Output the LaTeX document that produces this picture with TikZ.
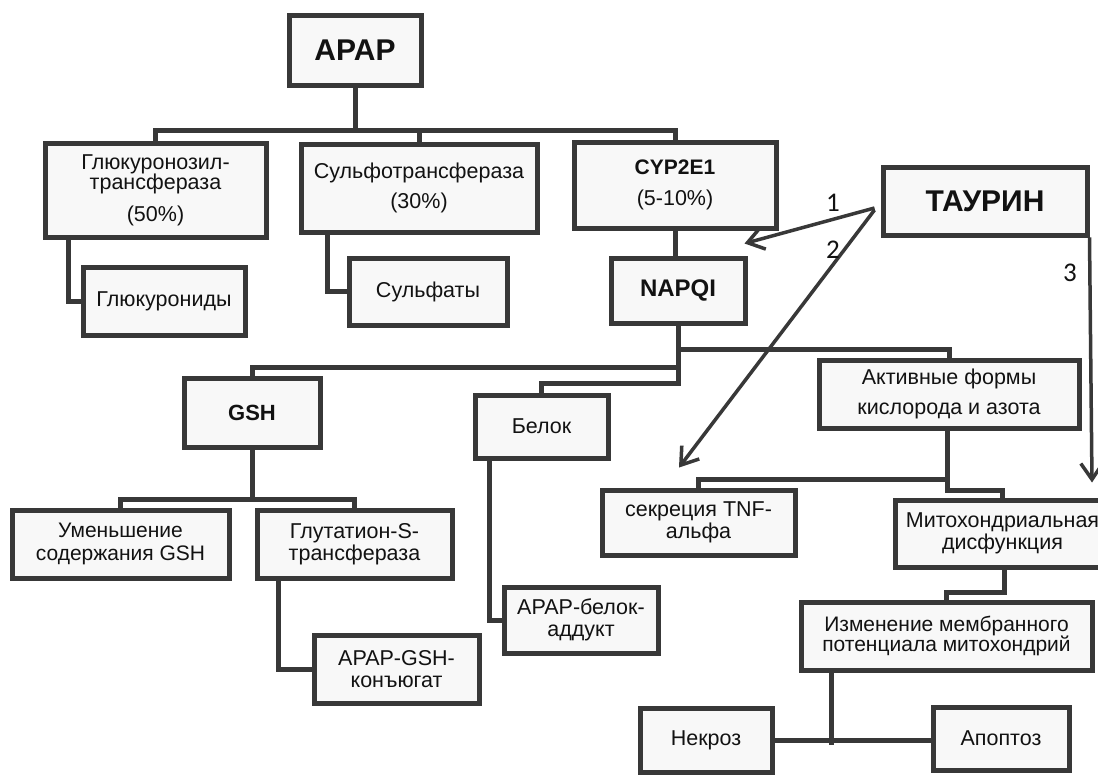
\documentclass[tikz,border=0pt]{standalone}
\usepackage{fontspec}
\setmainfont{Liberation Sans}
\newfontfamily\lblfont{Carlito}
\usetikzlibrary{arrows.meta,calc}
\definecolor{linec}{HTML}{383838}
\definecolor{txtc}{HTML}{121212}
\definecolor{boxfill}{HTML}{F8F8F8}
\begin{document}
\begin{tikzpicture}[x=1pt,y=-1pt,
  box/.style={draw=linec,line width=5pt,fill=boxfill,rectangle,inner sep=0pt,
    align=center,text=txtc,font=\fontsize{21.5}{21.5}\selectfont},
  conn/.style={draw=linec,line width=5pt,line cap=rect},
  arr/.style={draw=linec,line width=3.5pt,-{Straight Barb[length=16pt,width=22pt,line width=3.5pt]}},
  lbl/.style={text=txtc,font=\lblfont\fontsize{27}{27}\selectfont,inner sep=0pt}]
\useasboundingbox (0,0) rectangle (1098,774);
\clip (0,0) rectangle (1098,774);
\fill[white] (0,0) rectangle (1098,774);

% boxes
\node[box,minimum width=132pt,minimum height=70pt,font=\fontsize{30}{30}\selectfont\bfseries] (apap) at (355,50) {APAP};
\node[box,minimum width=221pt,minimum height=94pt,font=\fontsize{21.5}{20.5}\selectfont] (gluc) at (155.5,190) {Глюкуронозил-\\трансфераза\\[11pt](50\%)};
\node[box,minimum width=236pt,minimum height=88pt] (sulf) at (419,188) {Сульфотрансфераза\\[9pt](30\%)};
\node[box,minimum width=202pt,minimum height=86pt] (cyp) at (675,185) {\fontsize{21}{21}\selectfont\textbf{CYP2E1}\\[10pt](5-10\%)};
\node[box,minimum width=204pt,minimum height=68pt,font=\fontsize{30}{30}\selectfont\bfseries] (taurin) at (985,201) {ТАУРИН};
\node[box,minimum width=162pt,minimum height=68pt] (glucs) at (164,301) {Глюкурониды};
\node[box,minimum width=158pt,minimum height=67pt] (sulfaty) at (428,291.5) {Сульфаты};
\node[box,minimum width=134pt,minimum height=65pt,font=\fontsize{24}{25}\selectfont\bfseries] (napqi) at (678,290.5) {NAPQI};
\node[box,minimum width=136pt,minimum height=69pt,font=\fontsize{22}{22}\selectfont\bfseries] (gsh) at (252,412.5) {GSH};
\node[box,minimum width=133pt,minimum height=63pt] (belok) at (541.5,426.5) {Белок};
\node[box,minimum width=260pt,minimum height=68pt] (afk) at (949,394) {Активные формы\\[8.5pt]кислорода и азота};
\node[box,minimum width=217pt,minimum height=68pt,font=\fontsize{21}{23}\selectfont] (umen) at (120.5,544) {Уменьшение\\содержания GSH};
\node[box,minimum width=195pt,minimum height=68pt] (glut) at (354.5,544) {Глутатион-S-\\трансфераза};
\node[box,minimum width=165pt,minimum height=68pt] (apapgsh) at (396.5,669) {APAP-GSH-\\конъюгат};
\node[box,minimum width=154pt,minimum height=66pt] (apapbel) at (581,620) {APAP-белок-\\аддукт};
\node[box,minimum width=193pt,minimum height=65pt] (tnf) at (698.5,522.5) {секреция TNF-\\альфа};
\node[box,minimum width=215pt,minimum height=67pt] (mito) at (1002.5,533.5) {Митохондриальная\\дисфункция};
\node[box,minimum width=291pt,minimum height=68pt,font=\fontsize{21}{20.5}\selectfont] (izm) at (946.5,636) {Изменение мембранного\\потенциала митохондрий};
\node[box,minimum width=132pt,minimum height=64pt] (nekroz) at (706,740) {Некроз};
\node[box,minimum width=136pt,minimum height=63pt] (apopt) at (1001,738.5) {Апоптоз};

% connectors
\draw[conn] (apap.south) -- ++(0,43) coordinate (b1);
\draw[conn] (b1) -| (gluc.north);
\draw[conn] (b1) -| (sulf.north);
\draw[conn] (b1) -| (cyp.north);
\draw[conn] ([xshift=-87.5pt]gluc.south) |- (glucs.west);
\draw[conn] ([xshift=-92pt]sulf.south) |- (sulfaty.west);
\draw[conn] (cyp.south) -- (cyp.south |- napqi.north);
\draw[conn] (napqi.south) -- ++(0,58);
\draw[conn] (napqi.south) ++(0,24) -| (afk.north);
\draw[conn] (napqi.south) ++(0,42) -| (gsh.north);
\draw[conn] (napqi.south) ++(0,58) -| (belok.north);
\draw[conn] (gsh.south) -- ++(0,50) coordinate (b2);
\draw[conn] (b2) -| (umen.north);
\draw[conn] (b2) -| (glut.north);
\draw[conn] ([xshift=-76.5pt]glut.south) |- (apapgsh.west);
\draw[conn] ([xshift=-52.5pt]belok.south) |- (apapbel.west);
\draw[conn] ([xshift=-2pt]afk.south) -- ++(0,60) -| (mito.north);
\draw[conn] ([xshift=-2pt]afk.south) ++(0,49) -| (tnf.north);
\draw[conn] ([xshift=1.5pt]mito.south) -- ++(0,23) -| (izm.north);
\draw[conn] ([xshift=-115.5pt]izm.south) -- ++(0,70) coordinate (b3);
\draw[conn] (nekroz.east) -- (nekroz.east -| apopt.west);

% arrows from taurine
\draw[arr] ($(taurin.west)+(-6,7)$) -- ($(napqi.north east)+(-3,-12)$);
\draw[arr] ($(taurin.west)+(-6,9)$) -- ($(tnf.north)+(-19.5,-20)$);
\draw[arr] (taurin.south east) -- ($(mito.north)+(89.5,-15)$);
\node[lbl] (l1) at (833,203) {1};
\node[lbl] (l2) at (833,250) {2};
\node[lbl] (l3) at (1070,273) {3};
\end{tikzpicture}
\end{document}
